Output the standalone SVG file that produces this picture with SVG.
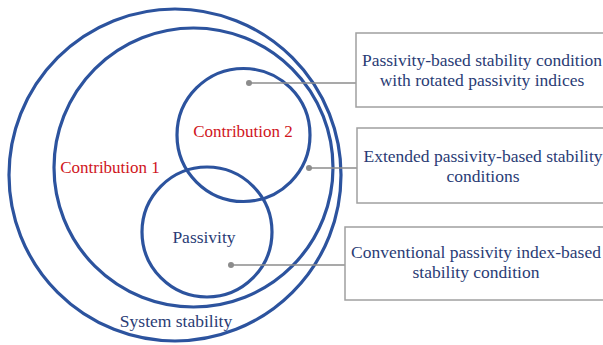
<svg xmlns="http://www.w3.org/2000/svg" width="603" height="345" viewBox="0 0 603 345">
<style>
.ring{fill:none;stroke:#2c539e;stroke-width:3.2}
.box{fill:#fff;stroke:#a0a0a0;stroke-width:1.5}
.lead{stroke:#8c8c8c;stroke-width:1.5;fill:none}
.dot{fill:#8c8c8c}
.t{font-family:"Liberation Serif","Times New Roman","DejaVu Serif",serif;font-size:17.5px;fill:#2a3c75;text-anchor:middle}
.r{font-family:"Liberation Serif","Times New Roman","DejaVu Serif",serif;font-size:17px;fill:#d0151c;text-anchor:middle}
</style>
<rect width="603" height="345" fill="#fff"/>
<g id="system-stability">
<circle class="ring" cx="175" cy="175" r="166"/>
<text class="t" x="176" y="327">System stability</text>
</g>
<g id="contribution-1">
<circle class="ring" cx="193.5" cy="167.5" r="139.5"/>
<text class="r" x="110" y="173">Contribution 1</text>
</g>
<g id="contribution-2">
<circle class="ring" cx="243.5" cy="135" r="66.5"/>
<text class="r" x="243" y="137">Contribution 2</text>
</g>
<g id="passivity">
<circle class="ring" cx="207" cy="232" r="65"/>
<text class="t" x="204" y="243">Passivity</text>
</g>
<g id="connectors">
<line class="lead" x1="249" y1="83" x2="356" y2="83"/>
<circle class="dot" cx="249" cy="83" r="3"/>
<line class="lead" x1="309" y1="168" x2="357" y2="168"/>
<circle class="dot" cx="309" cy="168" r="3"/>
<line class="lead" x1="231" y1="265" x2="345" y2="265"/>
<circle class="dot" cx="231" cy="265" r="3"/>
</g>
<g id="box-rotated">
<rect class="box" x="356" y="33" width="252" height="74"/>
<text class="t" x="482" y="65.5">Passivity-based stability condition</text>
<text class="t" x="482" y="85.5">with rotated passivity indices</text>
</g>
<g id="box-extended">
<rect class="box" x="357" y="128" width="251" height="75"/>
<text class="t" x="483" y="161.5">Extended passivity-based stability</text>
<text class="t" x="483" y="181.5">conditions</text>
</g>
<g id="box-conventional">
<rect class="box" x="345" y="227" width="263" height="73"/>
<text class="t" x="476" y="258">Conventional passivity index-based</text>
<text class="t" x="476" y="278">stability condition</text>
</g>
</svg>
